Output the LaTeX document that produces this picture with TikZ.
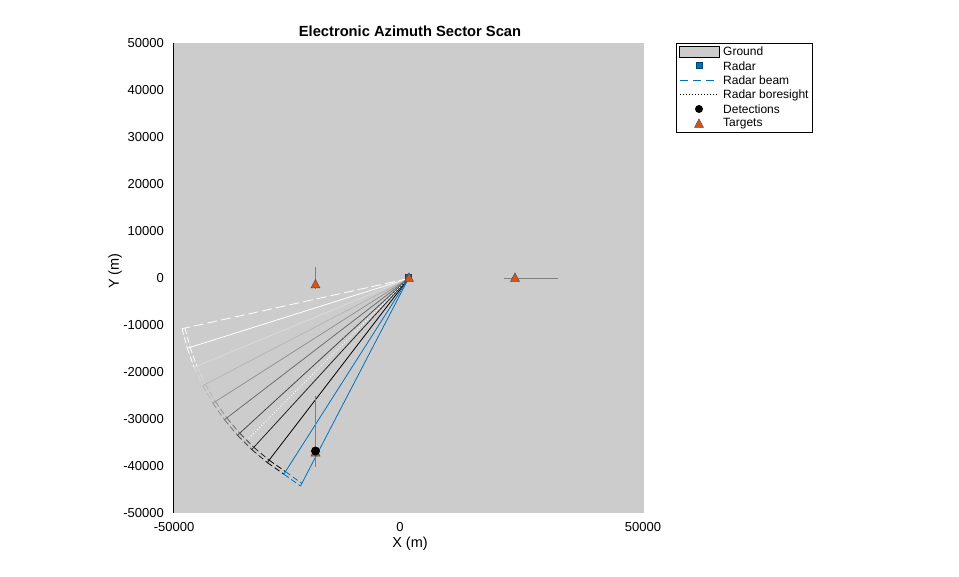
\documentclass[tikz,border=0pt]{standalone}
\usepackage{fontspec}
\setmainfont{Liberation Sans}
\definecolor{groundgray}{RGB}{204,204,204}
\definecolor{mblue}{rgb}{0,0.447,0.741}
\definecolor{morange}{rgb}{0.85,0.325,0.098}
\definecolor{trail}{RGB}{128,128,128}
\begin{document}
\begin{tikzpicture}[x=1pt,y=-1pt,
  ticklab/.style={font=\fontsize{13}{13}\selectfont, inner sep=0pt},
  axlab/.style={font=\fontsize{14.5}{14.5}\selectfont, inner sep=0pt},
  leglab/.style={font=\fontsize{12}{12}\selectfont, inner sep=0pt, anchor=west},
  beamedge/.style={line width=0.8pt},
  beamcap/.style={line width=0.8pt, dash pattern=on 6pt off 3pt},
  trailline/.style={draw=trail, line width=0.8pt},
  target/.style={fill=morange, draw=black!70, line width=0.5pt},
  detect/.style={fill=black},
  radarmark/.style={fill=mblue, draw=mblue!60!black, line width=0.5pt}]
\useasboundingbox (0,0) rectangle (959,577);
\fill[white] (0,0) rectangle (959,577);
% ground
\fill[groundgray] (174,43) rectangle (644,513);
\draw[black, line width=0.8pt] (173.5,43) -- (173.5,513);
% title
\node[font=\bfseries\fontsize{14.7}{14.7}\selectfont, inner sep=0pt] (title) at (410,31) {Electronic Azimuth Sector Scan};
% y tick labels
\foreach \v [count=\i from 0] in {50000,40000,30000,20000,10000,0,-10000,-20000,-30000,-40000,-50000}{
  \node[ticklab, anchor=east] (yl\i) at (164,43+47*\i) {\v};
}
\node[ticklab] (xl0) at (174,527) {-50000};
\node[ticklab] (xl1) at (400,527) {0};
\node[ticklab] (xl2) at (643,527) {50000};
\node[axlab] (xlab) at (410,544) {X (m)};
\node[axlab, rotate=90] (ylab) at (115,271) {Y (m)};
% beams
\begin{scope}[shift={(408.5,278.5)}]
  \draw[beamedge, white, dash pattern=on 10pt off 4pt] (0,0) -- (167.5:232);
  \foreach \j in {1,...,8}{
    \pgfmathsetmacro\p{100*(\j-1)/7}
    \pgfmathsetmacro\pc{100*max(\j-2,0)/7}
    \pgfmathsetmacro\ta{167.5-5*(\j-1)}
    \pgfmathsetmacro\tb{167.5-5*\j}
    \draw[beamcap, color=black!\pc] (\ta:232) -- (\tb:232);
    \draw[beamcap, color=black!\pc] (\ta:229) -- (\tb:229);
    \draw[beamedge, color=black!\p] (0,0) -- (\tb:232);
  }
  \draw[beamcap, black] (127.5:232) -- (122.5:232);
  \draw[beamcap, black] (127.5:229) -- (122.5:229);
  \draw[line width=0.9pt, white, dash pattern=on 1pt off 2pt] (0,0) -- (135:228);
  \draw[beamedge, mblue] (0,0) -- (122.5:232);
  \draw[beamedge, mblue] (0,0) -- (117.5:234);
  \draw[beamcap, mblue] (122.5:232) -- (117.5:234);
  \draw[beamcap, mblue] (122.5:229) -- (117.5:231);
\end{scope}
% target trails
\draw[trailline] (315.5,267) -- (315.5,289);
\draw[trailline] (504,278) -- (558,278);
\draw[trailline] (315.5,396) -- (315.5,467);
% radar
\fill[radarmark] (405.5,274.5) rectangle (411.5,280.5);
% targets
\foreach \x/\y [count=\n] in {315.5/284, 409/277.5, 515/277.5, 315.5/452}{
  \filldraw[target] (\x-4.5,\y+4) -- (\x+4.5,\y+4) -- (\x,\y-4.5) -- cycle;
}
% detection
\fill[detect] (315.5,451) circle (4.5);
% legend
\draw[black, line width=0.6pt, fill=white] (676.5,43.5) rectangle (812.5,132.5);
\filldraw[fill=groundgray, draw=black, line width=0.6pt] (679.5,46) rectangle (719.5,57);
\fill[radarmark] (696,62) rectangle (702,68);
\draw[mblue, line width=0.8pt, dash pattern=on 8pt off 5pt] (680,80) -- (719,80);
\draw[black, line width=0.8pt, dash pattern=on 1pt off 2pt] (680,94.5) -- (719,94.5);
\fill[black] (699,109) circle (4);
\filldraw[target] (694.5,127.5) -- (703.5,127.5) -- (699,119) -- cycle;
\node[leglab] (lg1) at (723,51.5) {Ground};
\node[leglab] (lg2) at (723,66) {Radar};
\node[leglab] (lg3) at (723,80.5) {Radar beam};
\node[leglab] (lg4) at (723,95) {Radar boresight};
\node[leglab] (lg5) at (723,109.5) {Detections};
\node[leglab] (lg6) at (723,124) {Targets};
\end{tikzpicture}
\end{document}
